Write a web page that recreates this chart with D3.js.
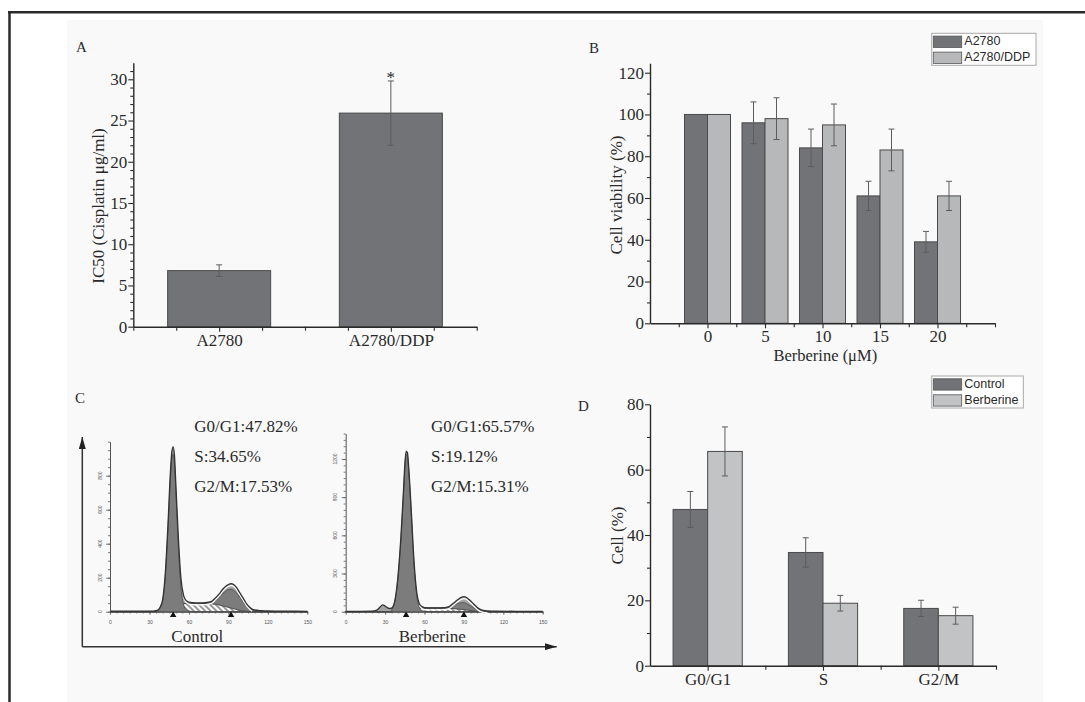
<!DOCTYPE html>
<html lang="en">
<head>
<meta charset="UTF-8" />
<title>Berberine and cisplatin resistance</title>
<style>
  body { margin: 0; background: #fff; }
</style>
</head>
<body>
<svg id="fig" width="1085" height="702"></svg>
<script src="https://d3js.org/d3.v7.min.js"></script>
<script>
// ---- data ----
// A: IC50 of cisplatin
const cellLines = ["A2780", "A2780/DDP"];
const ic50 = [6.8, 25.9];
const ic50Err = [0.7, 3.9];

// B: cell viability vs berberine dose
const doses = [0, 5, 10, 15, 20];
const viabA2780 = [100, 96, 84, 61, 39];
const viabA2780Err = [0, 10, 9, 7, 5];
const viabDDP = [100, 98, 95, 83, 61];
const viabDDPErr = [0, 10, 10, 10, 7];

// C: DNA content histograms (channel, counts)
const ctrlCh = [0, 30, 36, 38, 40, 42, 44, 46, 47, 48, 49, 50, 52, 54, 56, 58, 60, 65, 70, 75, 78, 80, 83, 86, 88, 90, 92, 94, 96, 98, 100, 102, 104, 106, 108, 110, 115, 120, 130, 140, 150];
const ctrlTotal = [3, 3, 8, 25, 70, 220, 500, 830, 940, 970, 920, 760, 430, 190, 95, 65, 56, 52, 52, 56, 65, 80, 105, 135, 150, 160, 165, 160, 145, 120, 95, 70, 45, 28, 15, 10, 6, 4, 3, 3, 2];
const ctrlG1 = [0, 0, 6, 22, 60, 200, 470, 790, 900, 925, 875, 712, 380, 140, 40, 12, 4, 0, 0, 0, 0, 0, 0, 0, 0, 0, 0, 0, 0, 0, 0, 0, 0, 0, 0, 0, 0, 0, 0, 0, 0];
const ctrlS = [0, 0, 0, 2, 8, 16, 24, 32, 36, 40, 42, 44, 46, 47, 48, 48, 48, 48, 48, 48, 46, 44, 40, 34, 30, 26, 22, 18, 14, 10, 7, 4, 2, 0, 0, 0, 0, 0, 0, 0, 0];
const ctrlG2 = [0, 0, 0, 0, 0, 0, 0, 0, 0, 0, 0, 0, 0, 0, 0, 0, 0, 0, 0, 3, 10, 22, 45, 75, 92, 105, 110, 108, 98, 82, 64, 46, 30, 18, 9, 4, 0, 0, 0, 0, 0];
const ctrlPeaks = [48, 92];

const berbCh = [0, 20, 24, 26, 28, 30, 32, 34, 36, 38, 40, 42, 44, 45, 46, 47, 48, 50, 52, 54, 56, 58, 60, 65, 70, 75, 78, 80, 83, 86, 88, 90, 92, 94, 96, 98, 100, 102, 104, 108, 115, 130, 150];
const berbTotal = [3, 5, 15, 35, 53, 45, 30, 25, 40, 120, 300, 580, 950, 1150, 1260, 1250, 1130, 780, 400, 160, 65, 40, 32, 30, 30, 32, 38, 50, 75, 100, 113, 118, 112, 95, 75, 55, 35, 20, 12, 6, 4, 3, 2];
const berbG1 = [0, 0, 0, 0, 0, 0, 0, 0, 35, 110, 285, 560, 925, 1125, 1235, 1224, 1103, 752, 372, 132, 37, 10, 2, 0, 0, 0, 0, 0, 0, 0, 0, 0, 0, 0, 0, 0, 0, 0, 0, 0, 0, 0, 0];
const berbS = [0, 0, 0, 0, 0, 0, 0, 0, 2, 6, 12, 18, 22, 24, 25, 26, 27, 28, 28, 28, 28, 28, 28, 28, 28, 28, 27, 26, 24, 21, 19, 17, 14, 11, 8, 6, 4, 2, 1, 0, 0, 0, 0];
const berbG2 = [0, 0, 0, 0, 0, 0, 0, 0, 0, 0, 0, 0, 0, 0, 0, 0, 0, 0, 0, 0, 0, 0, 0, 0, 0, 2, 6, 14, 30, 45, 52, 54, 50, 42, 33, 24, 15, 8, 4, 1, 0, 0, 0];
const berbPeaks = [46, 90];

const ctrlText = ["G0/G1:47.82%", "S:34.65%", "G2/M:17.53%"];
const berbText = ["G0/G1:65.57%", "S:19.12%", "G2/M:15.31%"];
const ctrlYTicks = [0, 200, 400, 600, 800];
const berbYTicks = [0, 300, 600, 900, 1200];
const channelTicks = [0, 30, 60, 90, 120, 150];

// D: cell-cycle distribution
const phases = ["G0/G1", "S", "G2/M"];
const controlPct = [47.82, 34.65, 17.53];
const controlErr = [5.5, 4.5, 2.5];
const berberinePct = [65.57, 19.12, 15.31];
const berberineErr = [7.5, 2.4, 2.6];

// ---- drawing ----
const svg = d3.select("#fig");
const ink = "#2a2a2a";
const serif = '"Liberation Serif", "Times New Roman", serif';
const sans = '"Liberation Sans", Arial, sans-serif';
const darkBar = "#727376", lightBar = "#b7b8ba", lighterBar = "#c2c3c5";

// frame
svg.append("rect").attr("x", 67).attr("y", 20).attr("width", 976).attr("height", 682).attr("fill", "#f9f9f9");
svg.append("line").attr("x1", 8).attr("x2", 1085).attr("y1", 12.3).attr("y2", 12.3).attr("stroke", "#2a2a2a").attr("stroke-width", 2.5);
svg.append("line").attr("x1", 9.5).attr("x2", 9.5).attr("y1", 11).attr("y2", 702).attr("stroke", "#2a2a2a").attr("stroke-width", 2.5);

const defs = svg.append("defs");
const pat = defs.append("pattern").attr("id", "hatch").attr("patternUnits", "userSpaceOnUse")
  .attr("width", 4).attr("height", 4).attr("patternTransform", "rotate(-45)");
pat.append("rect").attr("width", 4).attr("height", 4).attr("fill", "#fff");
pat.append("line").attr("x1", 1).attr("x2", 1).attr("y1", 0).attr("y2", 4).attr("stroke", "#555").attr("stroke-width", 1.2);
defs.append("marker").attr("id", "arrow").attr("markerUnits", "userSpaceOnUse")
  .attr("viewBox", "0 0 12 7").attr("refX", 12).attr("refY", 3.5)
  .attr("markerWidth", 12).attr("markerHeight", 7).attr("orient", "auto")
  .append("path").attr("d", "M0,0L12,3.5L0,7z").attr("fill", "#222");

function styleAxis(sel, fs) {
  sel.select(".domain").attr("stroke", ink).attr("stroke-width", 1.4);
  sel.selectAll(".tick line").attr("stroke", ink).attr("stroke-width", 1.1);
  sel.selectAll(".tick text").attr("fill", ink).style("font-family", serif).style("font-size", fs + "px");
}

function yAxis(y, x0, majors, minors) {
  const a = svg.append("g").attr("transform", `translate(${x0},0)`)
    .call(d3.axisLeft(y).tickValues(majors).tickSize(5).tickPadding(1).tickSizeOuter(0));
  styleAxis(a, 17);
  const m = svg.append("g").attr("transform", `translate(${x0},0)`)
    .call(d3.axisLeft(y).tickValues(minors).tickSize(3).tickFormat(""));
  m.select(".domain").remove();
  styleAxis(m, 17);
}

function xAxis(x, y0, majors, minors, fmt) {
  const a = svg.append("g").attr("transform", `translate(0,${y0})`)
    .call(d3.axisBottom(x).tickValues(majors).tickSize(5).tickPadding(2).tickSizeOuter(0).tickFormat(fmt));
  styleAxis(a, 17);
  const m = svg.append("g").attr("transform", `translate(0,${y0})`)
    .call(d3.axisBottom(x).tickValues(minors).tickSize(4).tickFormat(""));
  m.select(".domain").remove();
  styleAxis(m, 17);
}

function drawBars(x, y, bars) {
  const g = svg.append("g");
  g.selectAll("rect").data(bars).join("rect")
    .attr("x", d => x(d.lo)).attr("width", d => x(d.hi) - x(d.lo))
    .attr("y", d => y(d.v)).attr("height", d => y(0) - y(d.v))
    .attr("fill", d => d.fill).attr("stroke", "#4a4a4a").attr("stroke-width", 1);
  const cx = d => (x(d.lo) + x(d.hi)) / 2;
  g.selectAll("path").data(bars.filter(d => d.e > 0)).join("path")
    .attr("d", d => `M${cx(d)},${y(d.v - d.e)}V${y(d.v + d.e)}M${cx(d) - 3},${y(d.v + d.e)}h6M${cx(d) - 3},${y(d.v - d.e)}h6`)
    .attr("stroke", "#5c5c5c").attr("stroke-width", 1).attr("fill", "none");
}

function label(x, y, txt, opts = {}) {
  const t = svg.append("text").attr("x", x).attr("y", y).text(txt)
    .attr("fill", ink).style("font-family", opts.font || serif).style("font-size", (opts.size || 17) + "px")
    .attr("text-anchor", opts.anchor || "start");
  if (opts.rotate) t.attr("transform", `rotate(-90,${x},${y})`);
  return t;
}

function legend(x0, y0, w, items) {
  svg.append("rect").attr("x", x0).attr("y", y0).attr("width", w).attr("height", 32)
    .attr("fill", "#fff").attr("stroke", "#a8a8a8").attr("stroke-width", 1);
  items.forEach((it, i) => {
    svg.append("rect").attr("x", x0 + 1.6).attr("y", y0 + 2.8 + i * 16).attr("width", 28.4).attr("height", 11.3)
      .attr("fill", it.fill).attr("stroke", "#555").attr("stroke-width", 0.8);
    label(x0 + 32.6, y0 + 11.8 + i * 16, it.name, { font: sans, size: 12.5 });
  });
}

// ---------- Panel A ----------
const xA = d3.scaleLinear([0.5, 2.5], [133.3, 476.7]);
const yA = d3.scaleLinear([0, 32], [326.7, 62.8]);
drawBars(xA, yA, cellLines.map((c, i) => ({ lo: i + 0.7, hi: i + 1.3, v: ic50[i], e: ic50Err[i], fill: darkBar })));
yAxis(yA, 133.3, d3.range(0, 31, 5), d3.range(1, 32).filter(v => v % 5 !== 0));
xAxis(xA, 326.7, [1, 2], [0.5, 0.75, 1.25, 1.5, 1.75, 2.25, 2.5], d => cellLines[d - 1]);
label(xA(2), yA(ic50[1] + ic50Err[1]) + 2.5, "*", { anchor: "middle" });
label(103.5, 206, "IC50 (Cisplatin μg/ml)", { anchor: "middle", rotate: true });
label(76, 52, "A", { size: 15 });

// ---------- Panel B ----------
const xB = d3.scaleLinear([-5, 25], [650, 995]);
const yB = d3.scaleLinear([0, 124.5], [323.3, 63.3]);
drawBars(xB, yB, doses.flatMap((d, i) => [
  { lo: d - 2, hi: d, v: viabA2780[i], e: viabA2780Err[i], fill: darkBar },
  { lo: d, hi: d + 2, v: viabDDP[i], e: viabDDPErr[i], fill: lightBar }
]));
yAxis(yB, 650, d3.range(0, 121, 20), d3.range(10, 120, 20));
xAxis(xB, 323.3, doses, [-2.5, 2.5, 7.5, 12.5, 17.5, 22.5, 25], d => d);
label(825.3, 361, "Berberine (μM)", { anchor: "middle", size: 16.5 });
label(622, 195, "Cell viability (%)", { anchor: "middle", rotate: true });
label(589, 53, "B", { size: 15 });
legend(931.7, 33.3, 104.3, [{ name: "A2780", fill: darkBar }, { name: "A2780/DDP", fill: lightBar }]);

// ---------- Panel C ----------
function histogram(opts) {
  const { ch, total, g1, sph, g2, peaks, x, y } = opts;
  const g = svg.append("g");
  const idx = d3.range(ch.length);
  const curve = d3.curveMonotoneX;
  const px = i => x(ch[i]);
  g.append("path").datum(idx).attr("fill", "#a3a3a3")
    .attr("d", d3.area().x(px).y0(y(0)).y1(i => y(total[i])).curve(curve));
  g.append("path").datum(idx).attr("fill", "url(#hatch)").attr("stroke", "#666").attr("stroke-width", 0.8)
    .attr("d", d3.area().x(px).y0(y(0)).y1(i => y(sph[i])).curve(curve));
  g.append("path").datum(idx).attr("fill", "#7c7c7c").attr("stroke", "#4a4a4a").attr("stroke-width", 0.8)
    .attr("d", d3.area().x(px).y0(i => y(sph[i])).y1(i => y(sph[i] + g2[i])).curve(curve));
  g.append("path").datum(idx).attr("fill", "#7c7c7c").attr("stroke", "#4a4a4a").attr("stroke-width", 0.8)
    .attr("d", d3.area().x(px).y0(y(0)).y1(i => y(g1[i])).curve(curve));
  g.append("path").datum(idx.filter(i => ch[i] >= 56 && ch[i] <= 108)).attr("fill", "none")
    .attr("stroke", "#fff").attr("stroke-width", 1.3)
    .attr("d", d3.line().x(px).y(i => y(total[i]) + 2).curve(curve));
  g.append("path").datum(idx).attr("fill", "none").attr("stroke", "#333").attr("stroke-width", 1.3)
    .attr("d", d3.line().x(px).y(i => y(total[i])).curve(curve));
  g.selectAll(".tri").data(peaks).join("path")
    .attr("transform", d => `translate(${x(d)},${y(0) + 3.5})`)
    .attr("d", d3.symbol(d3.symbolTriangle, 18)).attr("fill", "#111");
}

function innerAxes(x, y, x0, yTicks, yMax) {
  const a = svg.append("g").attr("transform", `translate(${x0},0)`)
    .call(d3.axisLeft(y).tickValues(yTicks).tickSize(4).tickFormat("").tickSizeOuter(0));
  const m = svg.append("g").attr("transform", `translate(${x0},0)`)
    .call(d3.axisLeft(y).tickValues(d3.range(0, yMax + 1, 50)).tickSize(2).tickFormat(""));
  m.select(".domain").remove();
  [a, m].forEach(s => {
    s.select(".domain").attr("stroke", "#555").attr("stroke-width", 1);
    s.selectAll(".tick line").attr("stroke", "#555").attr("stroke-width", 0.8);
  });
  svg.append("g").selectAll("text").data(yTicks).join("text")
    .attr("transform", d => `translate(${x0 - 10},${y(d)}) rotate(-90)`)
    .attr("text-anchor", "middle").attr("dy", "0.35em")
    .style("font-family", sans).style("font-size", "5px").attr("fill", "#555").text(d => d);
  const b = svg.append("g").attr("transform", `translate(0,${y(0)})`)
    .call(d3.axisBottom(x).tickValues(channelTicks).tickSize(3).tickPadding(6).tickSizeOuter(0));
  const bm = svg.append("g").attr("transform", `translate(0,${y(0)})`)
    .call(d3.axisBottom(x).tickValues(d3.range(0, 151, 5)).tickSize(1.8).tickFormat(""));
  bm.select(".domain").remove();
  [b, bm].forEach(s => {
    s.select(".domain").attr("stroke", "#444").attr("stroke-width", 1.1);
    s.selectAll(".tick line").attr("stroke", "#555").attr("stroke-width", 0.8);
    s.selectAll(".tick text").attr("fill", "#555").style("font-family", sans).style("font-size", "5px");
  });
}

const xC1 = d3.scaleLinear([0, 150], [110, 307.3]);
const yC1 = d3.scaleLinear([0, 1000], [611.7, 441.7]);
const xC2 = d3.scaleLinear([0, 150], [345.7, 542.7]);
const yC2 = d3.scaleLinear([0, 1400], [611.7, 433.5]);

innerAxes(xC1, yC1, 110, ctrlYTicks, 1000);
innerAxes(xC2, yC2, 345.7, berbYTicks, 1400);
histogram({ ch: ctrlCh, total: ctrlTotal, g1: ctrlG1, sph: ctrlS, g2: ctrlG2, peaks: ctrlPeaks, x: xC1, y: yC1 });
histogram({ ch: berbCh, total: berbTotal, g1: berbG1, sph: berbS, g2: berbG2, peaks: berbPeaks, x: xC2, y: yC2 });

svg.append("path").attr("d", "M82.3,646.7V437").attr("stroke", "#333").attr("stroke-width", 1.5).attr("marker-end", "url(#arrow)");
svg.append("path").attr("d", "M82.3,646.7H556.7").attr("stroke", "#333").attr("stroke-width", 1.5).attr("marker-end", "url(#arrow)");

ctrlText.forEach((t, i) => label(194.3, 431.7 + i * 30, t));
berbText.forEach((t, i) => label(431, 431.7 + i * 30, t));
label(197.3, 641.7, "Control", { anchor: "middle" });
label(432.3, 642.3, "Berberine", { anchor: "middle" });
label(75, 403, "C", { size: 15 });

// ---------- Panel D ----------
const xD = d3.scaleLinear([0.5, 3.5], [650, 996]);
const yD = d3.scaleLinear([0, 80], [665.7, 404.3]);
drawBars(xD, yD, phases.flatMap((p, i) => [
  { lo: i + 0.7, hi: i + 1, v: controlPct[i], e: controlErr[i], fill: darkBar },
  { lo: i + 1, hi: i + 1.3, v: berberinePct[i], e: berberineErr[i], fill: lighterBar }
]));
yAxis(yD, 650, d3.range(0, 81, 20), [10, 30, 50, 70]);
xAxis(xD, 665.7, [1, 2, 3], [1.5, 2.5, 3.5], d => phases[d - 1]);
label(623, 535.5, "Cell (%)", { anchor: "middle", rotate: true });
label(578, 411, "D", { size: 15 });
legend(931.7, 376, 91.6, [{ name: "Control", fill: darkBar }, { name: "Berberine", fill: lighterBar }]);
</script>
</body>
</html>
